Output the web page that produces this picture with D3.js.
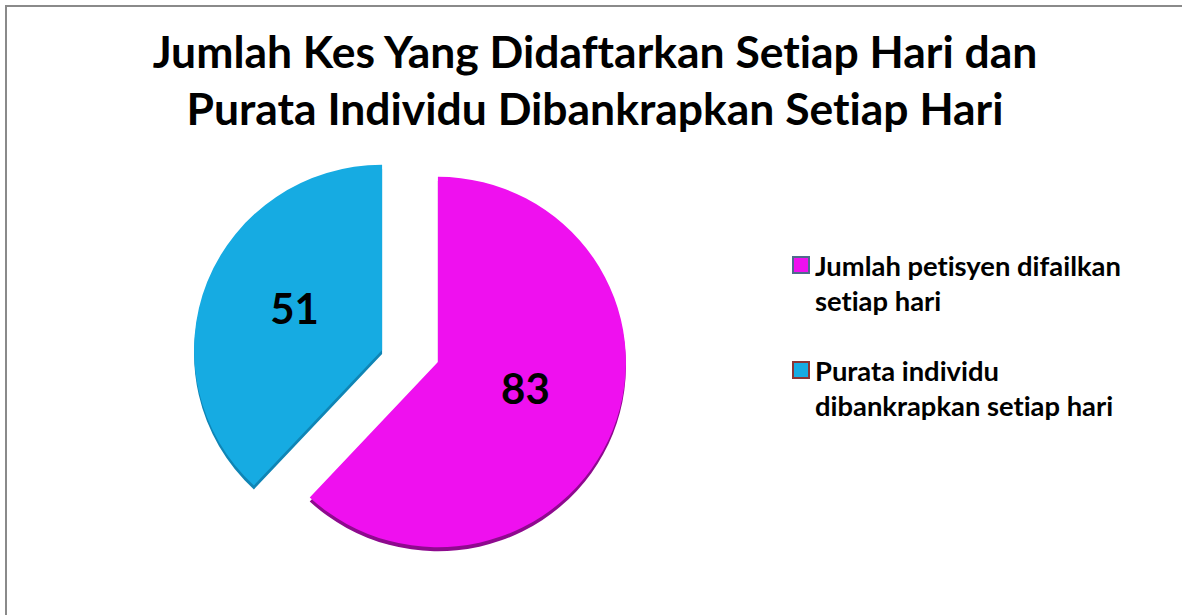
<!DOCTYPE html>
<html>
<head>
<meta charset="utf-8">
<script src="https://cdn.jsdelivr.net/npm/d3@7"></script>
<style>
  html, body { margin: 0; padding: 0; background: #fff; }
  svg { display: block; }
  text { font-variant-ligatures: none; font-feature-settings: "liga" 0, "clig" 0; }
</style>
</head>
<body>
<div id="chart"></div>
<script>
var titleLines = ["Jumlah Kes Yang Didaftarkan Setiap Hari dan", "Purata Individu Dibankrapkan Setiap Hari"];
var categories = ["Jumlah petisyen difailkan setiap hari", "Purata individu dibankrapkan setiap hari"];
var legendLines = [["Jumlah petisyen difailkan", "setiap hari"], ["Purata individu", "dibankrapkan setiap hari"]];
var values = [83, 51];
var colors = ["#ef10ef", "#16abe2"];
var rimColors = ["#8e0a8e", "#0f85b5"];
var legendBorders = ["#4f6a8c", "#8c3434"];

var width = 1182, height = 615;
var fontFamily = "Lato, 'Open Sans', sans-serif";

var svg = d3.select("#chart").append("svg")
    .attr("width", width)
    .attr("height", height);

// frame (only top and left edges show)
svg.append("path")
    .attr("d", "M6," + height + "V6H" + width)
    .attr("fill", "none")
    .attr("stroke", "#8a8a8a")
    .attr("stroke-width", 2);

// title, sized so line one spans the same width as the original
var title = svg.append("g");
var titleSize = 40;
title.selectAll("text")
    .data(titleLines)
    .enter().append("text")
    .attr("x", 595)
    .attr("y", function (d, i) { return 68 + i * 57; })
    .attr("text-anchor", "middle")
    .attr("font-family", fontFamily)
    .attr("font-weight", "bold")
    .attr("font-size", titleSize + "px")
    .attr("fill", "#000")
    .text(function (d) { return d; });
var w0 = title.select("text").node().getComputedTextLength();
titleSize = titleSize * 885 / w0;
title.selectAll("text").attr("font-size", titleSize + "px");

// pie
var cx = 410, cy = 356, r = 188, squash = 0.985, explode = 30;

var pie = d3.pie().sort(null).value(function (d) { return d; });
var arcs = pie(values);

var arc = d3.arc().innerRadius(0).outerRadius(r);
var labelArc = d3.arc().innerRadius(r * 0.5).outerRadius(r * 0.5);

function offset(d) {
    var mid = (d.startAngle + d.endAngle) / 2;
    return [Math.sin(mid) * explode, -Math.cos(mid) * explode * 0.55];
}

var slices = svg.append("g").selectAll("g")
    .data(arcs)
    .enter().append("g")
    .attr("transform", function (d) {
        var o = offset(d);
        return "translate(" + (cx + o[0]) + "," + (cy + o[1]) + ")";
    });

// darker side face shows under each slice
slices.append("path")
    .attr("transform", "translate(0,4) scale(1," + squash + ")")
    .attr("d", arc)
    .attr("fill", function (d, i) { return rimColors[i]; });

slices.append("path")
    .attr("transform", "scale(1," + squash + ")")
    .attr("d", arc)
    .attr("fill", function (d, i) { return colors[i]; });

slices.append("text")
    .attr("transform", function (d) {
        var c = labelArc.centroid(d);
        return "translate(" + c[0] + "," + (c[1] * squash) + ")";
    })
    .attr("dy", "0.2em")
    .attr("text-anchor", "middle")
    .attr("font-family", fontFamily)
    .attr("font-weight", "bold")
    .attr("font-size", "42px")
    .attr("fill", "#000")
    .text(function (d) { return d.value; });

// legend
var legend = svg.append("g").selectAll("g")
    .data(categories)
    .enter().append("g")
    .attr("transform", function (d, i) { return "translate(792," + (256 + i * 105) + ")"; });

legend.append("rect")
    .attr("x", 1)
    .attr("y", 1)
    .attr("width", 16)
    .attr("height", 16)
    .attr("fill", function (d, i) { return colors[i]; })
    .attr("stroke", function (d, i) { return legendBorders[i]; })
    .attr("stroke-width", 2);

var legendText = legend.append("text")
    .attr("font-family", fontFamily)
    .attr("font-weight", "bold")
    .attr("font-size", "24px")
    .attr("fill", "#000");

legendText.selectAll("tspan")
    .data(function (d, i) { return legendLines[i]; })
    .enter().append("tspan")
    .attr("x", 23)
    .attr("y", function (d, j) { return 20 + j * 35; })
    .text(function (d) { return d; });

var lw = legendText.select("tspan").node().getComputedTextLength();
legendText.attr("font-size", (24 * 306 / lw) + "px");
</script>
</body>
</html>
